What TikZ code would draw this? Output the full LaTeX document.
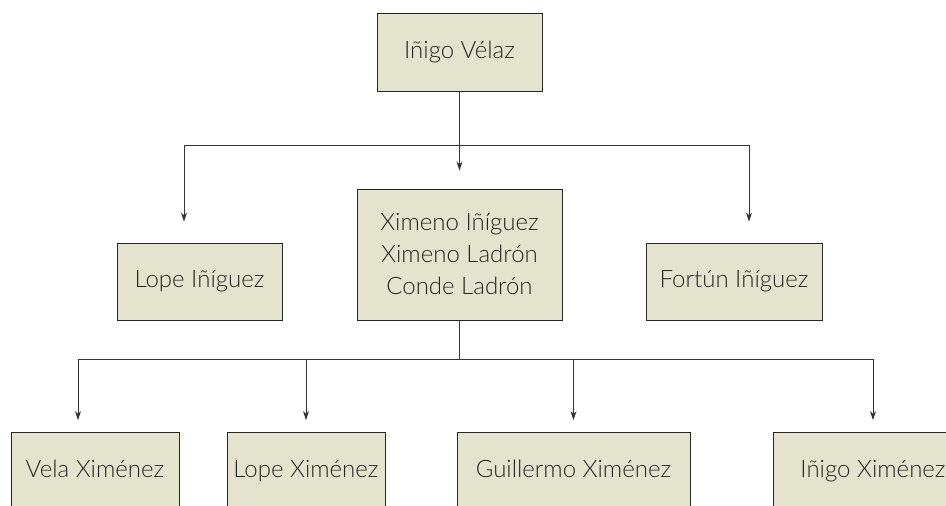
\documentclass[tikz,border=0pt]{standalone}
\usepackage{fontspec}
\usetikzlibrary{arrows.meta}
\IfFontExistsTF{Lato Light}{\setmainfont{Lato Light}}{\setmainfont{Lato}}
\definecolor{boxfill}{HTML}{E3E3CE}
\begin{document}
\begin{tikzpicture}[x=1pt,y=-1pt,>={Stealth[length=9pt,width=6pt]},font=\fontsize{24}{32}\selectfont,
		box/.style={draw=black!85,line width=0.9pt,fill=boxfill,text=black!85,inner sep=0pt,align=center,minimum height=77pt},
		oneline/.style={text height=17pt,text depth=5pt},
		link/.style={draw=black!80,line width=1pt}]
			\useasboundingbox (0,0) rectangle (946,506);
			% boxes
			\node[box,oneline,minimum width=165pt,minimum height=78pt] (velaz) at (459.5,52) {Iñigo Vélaz};
			\node[box,oneline,minimum width=165pt] (lope) at (199.5,281.5) {Lope Iñíguez};
			\node[box,minimum width=205pt,minimum height=131pt] (ximeno) at (459.5,254.5) {Ximeno Iñíguez\\Ximeno Ladrón\\Conde Ladrón};
			\node[box,oneline,minimum width=176pt] (fortun) at (734,281.5) {Fortún Iñíguez};
			\node[box,oneline,minimum width=168pt] (vela) at (95,471) {Vela Ximénez};
			\node[box,oneline,minimum width=158pt] (lopex) at (306,471) {Lope Ximénez};
			\node[box,oneline,minimum width=233pt] (guillermo) at (573.5,471) {Guillermo Ximénez};
			\node[box,oneline,minimum width=200pt] (inigox) at (873,471) {Iñigo Ximénez};
			% first level
			\coordinate (busA) at (184,145);
			\coordinate (busB) at (749,145);
			\draw[link] (busA) -- (busB);
			\draw[link,->,shorten >=18pt] (velaz.south) -- (ximeno.north);
			\draw[link,->,shorten >=21pt] (busA) -- (busA |- lope.north);
			\draw[link,->,shorten >=21pt] (busB) -- (busB |- fortun.north);
			% second level
			\coordinate (busC) at (78,359);
			\coordinate (busD) at (873,359);
			\draw[link] (ximeno.south) -- (ximeno.south |- busC);
			\draw[link] (busC) -- (busD);
			\draw[link,->,shorten >=12pt] (busC) -- (busC |- vela.north);
			\draw[link,->,shorten >=12pt] (lopex.north |- busC) -- (lopex.north);
			\draw[link,->,shorten >=12pt] (guillermo.north |- busC) -- (guillermo.north);
			\draw[link,->,shorten >=12pt] (busD) -- (inigox.north);
		\end{tikzpicture}
\end{document}
